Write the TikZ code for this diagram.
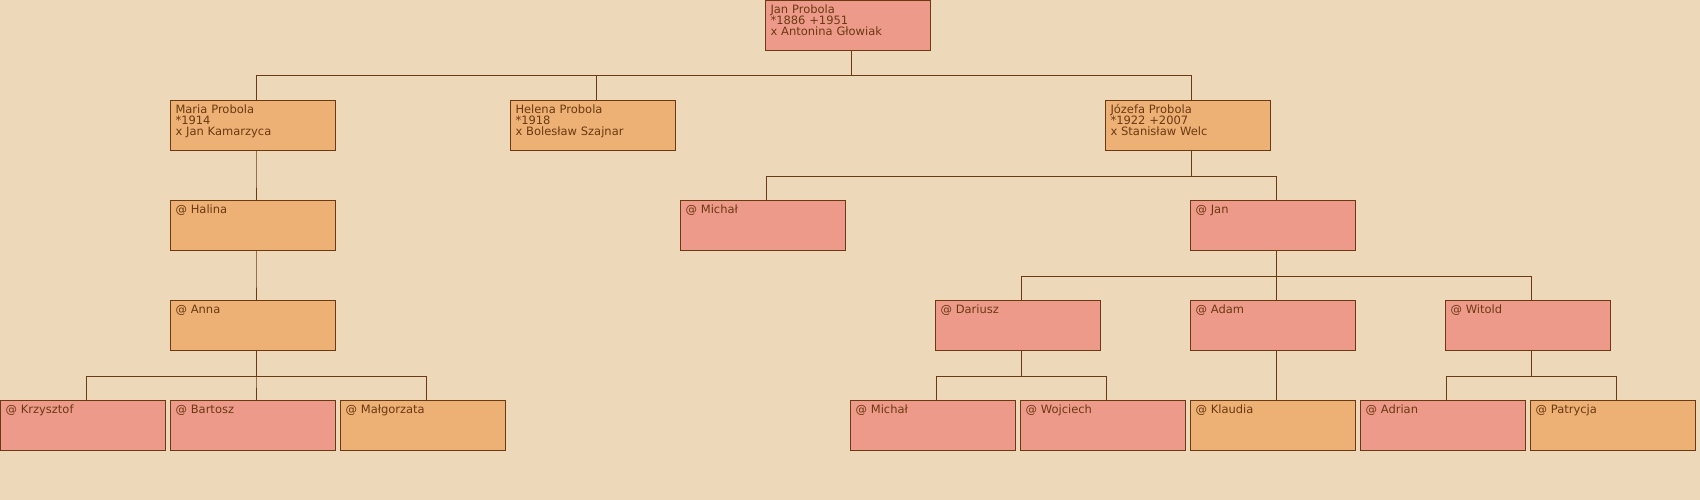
\documentclass[tikz,border=0pt]{standalone}
\usepackage{fontspec}
\setmainfont{DejaVu Sans}
\usetikzlibrary{positioning}

\definecolor{paper}{HTML}{EDD8B9}
\definecolor{male}{HTML}{EE9A8B}
\definecolor{female}{HTML}{EDB075}
\definecolor{treeline}{HTML}{6B3A12}

\begin{document}
\begin{tikzpicture}[x=1pt, y=-1pt,
    person/.style={draw=treeline, line width=1pt, anchor=north west,
      inner xsep=5pt, inner ysep=3pt, text width=155pt,
      text height=10pt, text depth=34pt, align=left,
      text=treeline, font=\fontsize{11.5}{11}\selectfont},
    male/.style={person, fill=male},
    female/.style={person, fill=female},
    link/.style={draw=treeline, line width=1pt}]

  % ===== Background =====
  \fill[paper] (0,0) rectangle (1700,500);
  \useasboundingbox (0,0) rectangle (1700,500);

  % ===== Generation 0 =====
  \node[male] (jan) at (765,0) {Jan Probola\\{*}1886 +1951\\x Antonina Głowiak};

  % ===== Generation 1 =====
  \node[female] (maria) at (170,100) {Maria Probola\\{*}1914\\x Jan Kamarzyca};
  \node[female] (helena) at (510,100) {Helena Probola\\{*}1918\\x Bolesław Szajnar};
  \node[female] (jozefa) at (1105,100) {Józefa Probola\\{*}1922 +2007\\x Stanisław Welc};

  % ===== Generation 2 =====
  \node[female] (halina) at (170,200) {@ Halina};
  \node[male] (michal) at (680,200) {@ Michał};
  \node[male] (janjr) at (1190,200) {@ Jan};

  % ===== Generation 3 =====
  \node[female] (anna) at (170,300) {@ Anna};
  \node[male] (dariusz) at (935,300) {@ Dariusz};
  \node[male] (adam) at (1190,300) {@ Adam};
  \node[male] (witold) at (1445,300) {@ Witold};

  % ===== Generation 4 =====
  \node[male] (krzysztof) at (0,400) {@ Krzysztof};
  \node[male] (bartosz) at (170,400) {@ Bartosz};
  \node[female] (malgorzata) at (340,400) {@ Małgorzata};
  \node[male] (michaljr) at (850,400) {@ Michał};
  \node[male] (wojciech) at (1020,400) {@ Wojciech};
  \node[female] (klaudia) at (1190,400) {@ Klaudia};
  \node[male] (adrian) at (1360,400) {@ Adrian};
  \node[female] (patrycja) at (1530,400) {@ Patrycja};

  % ===== Parent-child links =====
  \foreach \p/\c in {jan/maria, jan/helena, jan/jozefa,
      maria/halina, jozefa/michal, jozefa/janjr,
      halina/anna, janjr/dariusz, janjr/adam, janjr/witold,
      anna/krzysztof, anna/bartosz, anna/malgorzata,
      dariusz/michaljr, dariusz/wojciech, adam/klaudia,
      witold/adrian, witold/patrycja}
    \draw[link] ([xshift=3pt]\p.south) -- ++(0,25) -| ([xshift=3pt]\c.north);

\end{tikzpicture}
\end{document}
